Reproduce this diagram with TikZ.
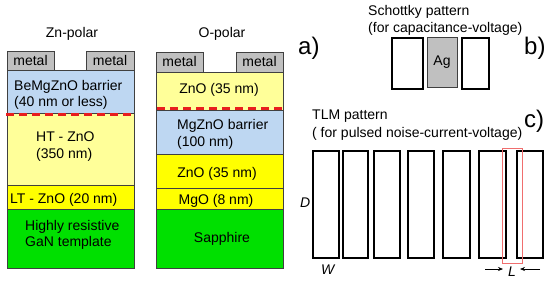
\documentclass[tikz,border=0pt]{standalone}
\usepackage{fontspec}
\setmainfont{Liberation Sans}
\usetikzlibrary{arrows.meta}
\definecolor{lblue}{RGB}{190,215,242}
\definecolor{lyel}{RGB}{255,255,153}
\definecolor{yel}{RGB}{255,255,0}
\definecolor{grn}{RGB}{0,224,0}
\definecolor{mgray}{RGB}{192,192,192}
\definecolor{edge}{RGB}{64,64,64}
\definecolor{dred}{RGB}{232,30,30}
\definecolor{pinkred}{RGB}{240,110,110}
\begin{document}
\begin{tikzpicture}[x=1pt,y=-1pt, font=\fontsize{14}{16}\selectfont,
  layer/.style={draw=edge, line width=0.8pt, anchor=north west, inner sep=0, outer sep=0},
  txt/.style={inner sep=0, anchor=base west},
  ctxt/.style={inner sep=0, anchor=base},
  pad/.style={draw=black, line width=1.2pt, anchor=north west, inner sep=0, outer sep=0},
  iface/.style={draw=dred, line width=3pt, dash pattern=on 8pt off 5pt},
  panel/.style={font=\fontsize{24}{28}\selectfont, inner sep=0, anchor=base west},
  arr/.style={-{Stealth[length=5pt,width=4pt]}, line width=0.6pt}]
\useasboundingbox (0,0) rectangle (550,282);
% ---------- Zn-polar ----------
\node[ctxt] (zntitle) at (72,37) {Zn-polar};
\node[layer, fill=mgray, minimum width=47pt, minimum height=19pt] (znm1) at (7,51) {};
\node[layer, fill=mgray, minimum width=48pt, minimum height=19pt] (znm2) at (86,51) {};
\node[ctxt] at (30.5,65) {metal};
\node[ctxt] at (110,65.5) {metal};
\node[layer, fill=lblue, minimum width=127pt, minimum height=43pt] (znbar) at (7,70) {};
\node[layer, fill=lyel, minimum width=127pt, minimum height=72pt] (znht) at (7,113) {};
\node[layer, fill=yel, minimum width=127pt, minimum height=24pt] (znlt) at (7,185) {};
\node[layer, fill=grn, minimum width=127pt, minimum height=59pt] (zngan) at (7,209) {};
\draw[iface] ([xshift=-1pt,yshift=-1.5pt]znbar.south west) -- ([yshift=-1.5pt]znbar.south east);
\node[txt] at (14,90.5) {BeMgZnO barrier};
\node[txt] at (14,106.5) {(40 nm or less)};
\node[txt] at (36,141) {HT - ZnO};
\node[txt] at (36,158) {(350 nm)};
\node[txt] at (10,203) {LT - ZnO (20 nm)};
\node[txt] at (25,230) {Highly resistive};
\node[txt] at (25,246) {GaN template};
% ---------- O-polar ----------
\node[ctxt] (otitle) at (222,37) {O-polar};
\node[layer, fill=mgray, minimum width=47pt, minimum height=20pt] (om1) at (156,52) {};
\node[layer, fill=mgray, minimum width=47pt, minimum height=20pt] (om2) at (236,52) {};
\node[ctxt] at (179.5,66) {metal};
\node[ctxt] at (259.5,66) {metal};
\node[layer, fill=lyel, minimum width=127pt, minimum height=38pt] (ozno1) at (156,72) {};
\node[layer, fill=lblue, minimum width=127pt, minimum height=44pt] (obar) at (156,110) {};
\node[layer, fill=yel, minimum width=127pt, minimum height=34pt] (ozno2) at (156,154) {};
\node[layer, fill=yel, minimum width=127pt, minimum height=21pt] (omgo) at (156,188) {};
\node[layer, fill=grn, minimum width=127pt, minimum height=59pt] (osap) at (156,209) {};
\draw[iface] ([xshift=1pt,yshift=1.6pt]ozno1.south west) -- ([yshift=1.6pt]ozno1.south east);
\node[ctxt] at (219,93) {ZnO (35 nm)};
\node[txt] at (177,129) {MgZnO barrier};
\node[txt] at (177,146) {(100 nm)};
\node[ctxt] at (217,177) {ZnO (35 nm)};
\node[ctxt] at (216,204) {MgO (8 nm)};
\node[ctxt] at (222,242) {Sapphire};
% ---------- panel labels ----------
\node[panel] (pa) at (298,54) {a)};
\node[panel] (pb) at (524,54) {b)};
\node[panel] (pc) at (524,127) {c)};
% ---------- Schottky ----------
\node[txt] (sch1) at (368,15) {Schottky pattern};
\node[txt] (sch2) at (368,32) {(for capacitance-voltage)};
\node[pad, minimum width=31pt, minimum height=51pt] (s1) at (392,38) {};
\node[layer, draw=edge, fill=mgray, minimum width=30pt, minimum height=50pt] (sag) at (427,37) {};
\node[ctxt] at (442,65) {Ag};
\node[pad, minimum width=27pt, minimum height=51pt] (s3) at (462,38) {};
% ---------- TLM ----------
\node[txt] (tlm1) at (312,119) {TLM pattern};
\node[txt] (tlm2) at (312,137) {( for pulsed noise-current-voltage)};
\foreach \i/\xa/\w in {1/313/26, 2/343/25, 3/374/26, 4/408/26, 5/443/27, 6/479/27, 7/517/26}
  \node[pad, minimum width=\w pt, minimum height=107pt] (t\i) at (\xa,151) {};
\node[draw=pinkred, line width=0.8pt, anchor=north west, inner sep=0, minimum width=20pt, minimum height=115pt] (gap) at (502,148) {};
\node[txt, font=\fontsize{14}{16}\selectfont\itshape] (dl) at (300,207) {D};
\node[txt, font=\fontsize{14}{16}\selectfont\itshape] (wl) at (321,274) {W};
\node[ctxt, font=\fontsize{14}{16}\selectfont\itshape] (ll) at (512,276) {L};
\coordinate (la) at (485,269);
\coordinate (lb) at (503,269);
\coordinate (ra) at (540,269);
\coordinate (rb) at (520,269);
\draw[arr] (la) -- (lb);
\draw[arr] (ra) -- (rb);
\end{tikzpicture}
\end{document}
